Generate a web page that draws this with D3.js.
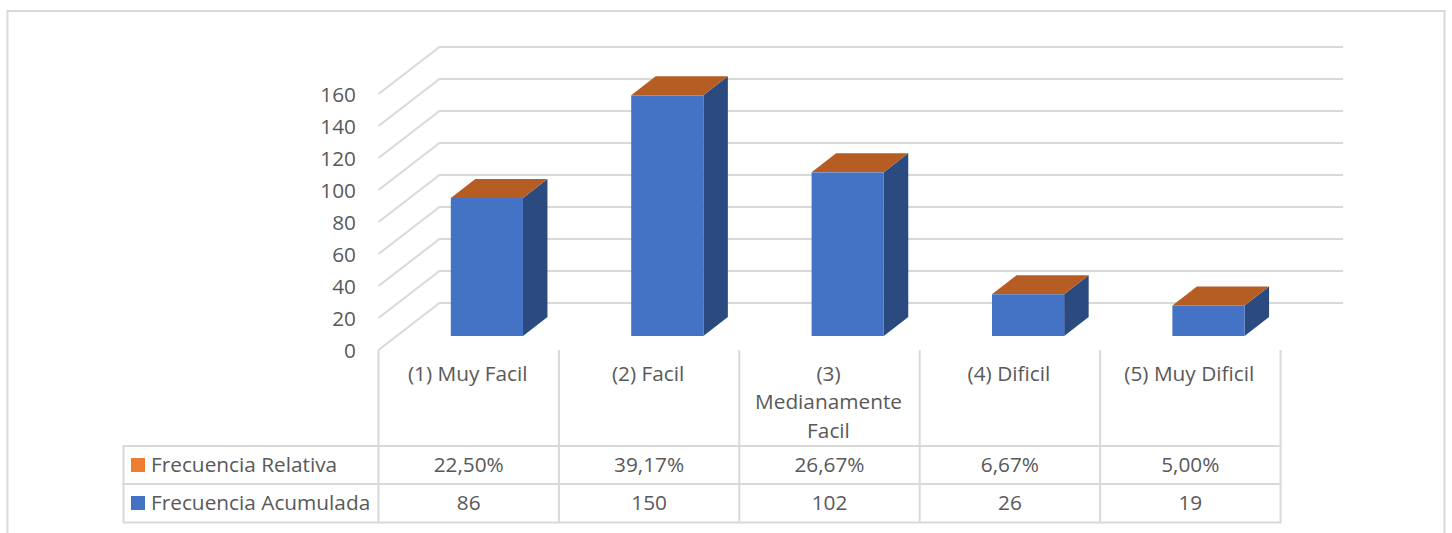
<!DOCTYPE html>
<html lang="es">
<head>
<meta charset="utf-8">
<title>Frecuencia por nivel de dificultad</title>
<script src="https://cdn.jsdelivr.net/npm/d3@7/dist/d3.min.js"></script>
<style>
  html, body { margin: 0; padding: 0; background: #fff; }
  svg { display: block; }
  text { font-family: "Open Sans", "Noto Sans", sans-serif; fill: #595959; }
</style>
</head>
<body>
<svg id="chart" width="1452" height="533"></svg>
<script>
// Chart data
const categories = ["(1) Muy Facil", "(2) Facil", "(3) Medianamente Facil", "(4) Dificil", "(5) Muy Dificil"];
const categoryLines = [["(1) Muy Facil"], ["(2) Facil"], ["(3)", "Medianamente", "Facil"], ["(4) Dificil"], ["(5) Muy Dificil"]];
const frecuenciaAcumulada = [86, 150, 102, 26, 19];
const frecuenciaRelativa = [0.225, 0.3917, 0.2667, 0.0667, 0.05];
const relativaLabels = ["22,50%", "39,17%", "26,67%", "6,67%", "5,00%"];
const yTicks = [0, 20, 40, 60, 80, 100, 120, 140, 160];

const colors = {
  grid: "#d9d9d9",
  front: "#4472c4",
  side: "#2a4a80",
  top: "#b55d22",
  swatchBlue: "#4472c4",
  swatchOrange: "#ed7d31"
};

const svg = d3.select("#chart");
const fontSize = 20.8;

// Scales: the band scale spans the table columns, the linear scale the front wall
const x = d3.scaleBand().domain(categories).range([378.5, 1280.5]).paddingInner(0).paddingOuter(0);
const y = d3.scaleLinear().domain([0, 160]).range([350, 94]);

// Oblique projection offsets
const wallDx = 61, wallDy = -47;      // front edge of the floor to the back wall
const barDx = 24.5, barDy = -19;      // depth of a bar
const barFloorDx = 72.3, barFloorDy = -14;  // bar foot relative to the axis base
const barWidth = x.bandwidth() * 0.4;
const gridRight = 1343;

const line = (x1, y1, x2, y2, w = 2) => svg.append("line")
  .attr("x1", x1).attr("y1", y1).attr("x2", x2).attr("y2", y2)
  .attr("stroke", colors.grid).attr("stroke-width", w);

// Outer frame, open along the bottom edge
svg.append("path")
  .attr("d", "M7.5,533V11H1444.5V533")
  .attr("fill", "none").attr("stroke", colors.grid).attr("stroke-width", 2);

// Gridlines: slanted floor-side segment plus the run along the back wall
svg.append("g").selectAll("path").data(yTicks).join("path")
  .attr("d", d => `M${x.range()[0]},${y(d)}L${x.range()[0] + wallDx},${y(d) + wallDy}H${gridRight}`)
  .attr("fill", "none").attr("stroke", colors.grid).attr("stroke-width", 2);

// Value axis labels
const yAxis = d3.axisLeft(y).tickValues(yTicks).tickSize(0).tickPadding(0);
const yG = svg.append("g").attr("transform", "translate(356,0)").call(yAxis);
yG.select(".domain").remove();
yG.selectAll("text")
  .attr("x", 0).attr("dy", "0.35em")
  .style("font-family", '"Open Sans", "Noto Sans", sans-serif')
  .style("font-size", fontSize + "px")
  .style("fill", "#595959");

// Bars: front, side and top faces, with the relative series stacked on the cumulative one
const bars = svg.append("g").selectAll("g").data(categories).join("g");
const barLeft = c => x(c) + barFloorDx;
const foot = y(0) + barFloorDy;
const px = v => y(0) - y(v);

bars.append("path") // side face
  .attr("fill", colors.side)
  .attr("d", (c, i) => {
    const l = barLeft(c) + barWidth, t = foot - px(frecuenciaAcumulada[i] + frecuenciaRelativa[i]);
    return `M${l},${foot}L${l + barDx},${foot + barDy}V${t + barDy}L${l},${t}Z`;
  });
bars.append("path") // top face
  .attr("fill", colors.top)
  .attr("d", (c, i) => {
    const l = barLeft(c), t = foot - px(frecuenciaAcumulada[i] + frecuenciaRelativa[i]);
    return `M${l},${t}H${l + barWidth}L${l + barWidth + barDx},${t + barDy}H${l + barDx}Z`;
  });
bars.append("rect") // front face
  .attr("fill", colors.front)
  .attr("x", c => barLeft(c))
  .attr("width", barWidth)
  .attr("y", (c, i) => foot - px(frecuenciaAcumulada[i] + frecuenciaRelativa[i]))
  .attr("height", (c, i) => px(frecuenciaAcumulada[i] + frecuenciaRelativa[i]));

// Data table grid
const tableLeft = 123.5, rowTop = 446, rowMid = 484, rowBottom = 522.5;
const columnEdges = categories.map(c => x(c)).concat(x.range()[1]);
columnEdges.forEach(cx => line(cx, 350, cx, rowBottom));
line(tableLeft, rowTop, tableLeft, rowBottom);
[rowTop, rowMid, rowBottom].forEach(ry => line(tableLeft - 1, ry, x.range()[1] + 1, ry));

// Category labels above the table rows
const catLabels = svg.append("g").selectAll("text").data(categories).join("text")
  .attr("text-anchor", "middle")
  .attr("font-size", fontSize)
  .attr("x", c => x(c) + x.bandwidth() / 2 - 1);
catLabels.each(function (c, i) {
  d3.select(this).selectAll("tspan").data(categoryLines[i]).join("tspan")
    .attr("x", x(c) + x.bandwidth() / 2 - 1)
    .attr("y", (d, j) => 381 + j * 28.3)
    .text(d => d);
});

// Table rows with legend keys
const rows = [
  { name: "Frecuencia Relativa", color: colors.swatchOrange, labels: relativaLabels, cy: 465 },
  { name: "Frecuencia Acumulada", color: colors.swatchBlue, labels: frecuenciaAcumulada.map(String), cy: 503 }
];
rows.forEach(r => {
  svg.append("rect").attr("x", 131).attr("y", r.cy - 7).attr("width", 14).attr("height", 14).attr("fill", r.color);
  svg.append("text").attr("x", 151).attr("y", r.cy).attr("dy", "0.35em").attr("font-size", fontSize).text(r.name);
  svg.append("g").selectAll("text").data(categories).join("text")
    .attr("x", c => x(c) + x.bandwidth() / 2)
    .attr("y", r.cy).attr("dy", "0.35em")
    .attr("text-anchor", "middle").attr("font-size", fontSize)
    .text((c, i) => r.labels[i]);
});
</script>
</body>
</html>
